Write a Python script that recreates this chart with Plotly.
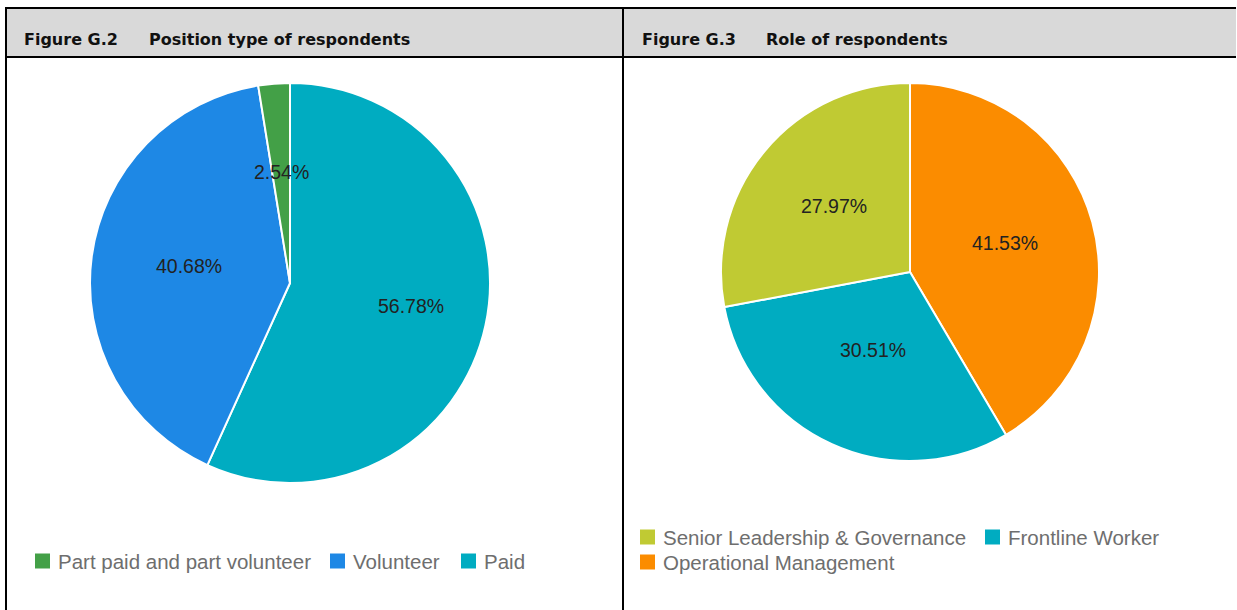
import math
import plotly.graph_objects as go

W, H = 1237, 610

# Respondent counts (n = 118), listed in legend order
position_labels = ["Part paid and part volunteer", "Volunteer", "Paid"]
position_counts = [3, 48, 67]
position_colors = ["#43a047", "#1e88e5", "#00acc1"]

role_labels = ["Senior Leadership & Governance", "Frontline Worker", "Operational Management"]
role_counts = [33, 36, 49]
role_colors = ["#c0ca33", "#00acc1", "#fb8c00"]

panel_titles = [("Figure G.2", "Position type of respondents"),
                ("Figure G.3", "Role of respondents")]

# Pie geometry in pixels: centre x, centre y, radius
position_pie = (290, 283, 200)
role_pie = (910, 272, 189)
# Distance of each percentage label from the centre, as a share of the radius
position_label_radius = [0.54, 0.51, 0.62]
role_label_radius = [0.52, 0.47, 0.52]


def px_x(v):
    return v / W


def px_y(v):
    return 1 - v / H


fig = go.Figure()
shapes = []
annotations = []

label_font = dict(family="Liberation Sans, Arial, sans-serif", size=19.5, color="#222222")

for labels, counts, colors, (cx, cy, r), radius in (
        (position_labels, position_counts, position_colors, position_pie, position_label_radius),
        (role_labels, role_counts, role_colors, role_pie, role_label_radius)):
    # slices run clockwise from 12 o'clock, last legend entry first
    order = list(range(len(labels)))[::-1]
    fig.add_trace(go.Pie(
        labels=[labels[i] for i in order],
        values=[counts[i] for i in order],
        marker=dict(colors=[colors[i] for i in order], line=dict(color="white", width=2)),
        domain=dict(x=[px_x(cx - r), px_x(cx + r)], y=[px_y(cy + r), px_y(cy - r)]),
        sort=False,
        direction="clockwise",
        rotation=0,
        textinfo="none",
        showlegend=False,
        hoverinfo="label+percent",
    ))
    total = sum(counts)
    before = 0
    for i in order:
        share = counts[i] / total
        theta = 2 * math.pi * (before + share / 2)
        before += share
        d = radius[i] * r
        annotations.append(dict(
            x=px_x(cx + d * math.sin(theta)), y=px_y(cy - d * math.cos(theta)),
            xref="paper", yref="paper", text=f"{share * 100:.2f}%", showarrow=False,
            xanchor="center", yanchor="middle", yshift=3, font=label_font))

# Header band and frame
shapes.append(dict(type="rect", xref="paper", yref="paper",
                   x0=px_x(6), x1=px_x(1236), y0=px_y(57), y1=px_y(8),
                   fillcolor="#d9d9d9", line=dict(width=0), layer="below"))
for y in (8, 57):
    shapes.append(dict(type="line", xref="paper", yref="paper",
                       x0=px_x(5), x1=px_x(1236), y0=px_y(y), y1=px_y(y),
                       line=dict(color="black", width=2)))
for x in (6, 623):
    shapes.append(dict(type="line", xref="paper", yref="paper",
                       x0=px_x(x), x1=px_x(x), y0=px_y(7), y1=px_y(H),
                       line=dict(color="black", width=2)))

title_font = dict(family="DejaVu Sans, sans-serif", size=16, color="#111111")
title_pos = [(22, 147), (640, 764)]
for (num, text), (xa, xb) in zip(panel_titles, title_pos):
    for tx, txt in ((xa, num), (xb, text)):
        annotations.append(dict(x=px_x(tx), y=px_y(40), xref="paper", yref="paper",
                                text=f"<b>{txt}</b>", showarrow=False,
                                xanchor="left", yanchor="middle", font=title_font))

# Legends: swatch left edge and row centre for each entry
legend_font = dict(family="Liberation Sans, Arial, sans-serif", size=20.5, color="#6e6e6e")
swatch = 15
position_legend_pos = [(35, 561), (330, 561), (461, 561)]
role_legend_pos = [(640, 537), (985, 537), (640, 562)]

for labels, colors, spots in ((position_labels, position_colors, position_legend_pos),
                              (role_labels, role_colors, role_legend_pos)):
    for label, color, (sx, sy) in zip(labels, colors, spots):
        shapes.append(dict(type="rect", xref="paper", yref="paper",
                           x0=px_x(sx), x1=px_x(sx + swatch),
                           y0=px_y(sy + swatch / 2), y1=px_y(sy - swatch / 2),
                           fillcolor=color, line=dict(width=0)))
        annotations.append(dict(x=px_x(sx + swatch + 6), y=px_y(sy), xref="paper", yref="paper",
                                text=label, showarrow=False,
                                xanchor="left", yanchor="middle", font=legend_font))

fig.update_layout(
    width=W, height=H,
    margin=dict(l=0, r=0, t=0, b=0),
    paper_bgcolor="white",
    plot_bgcolor="white",
    shapes=shapes,
    annotations=annotations,
)

fig.write_html("out.html")
